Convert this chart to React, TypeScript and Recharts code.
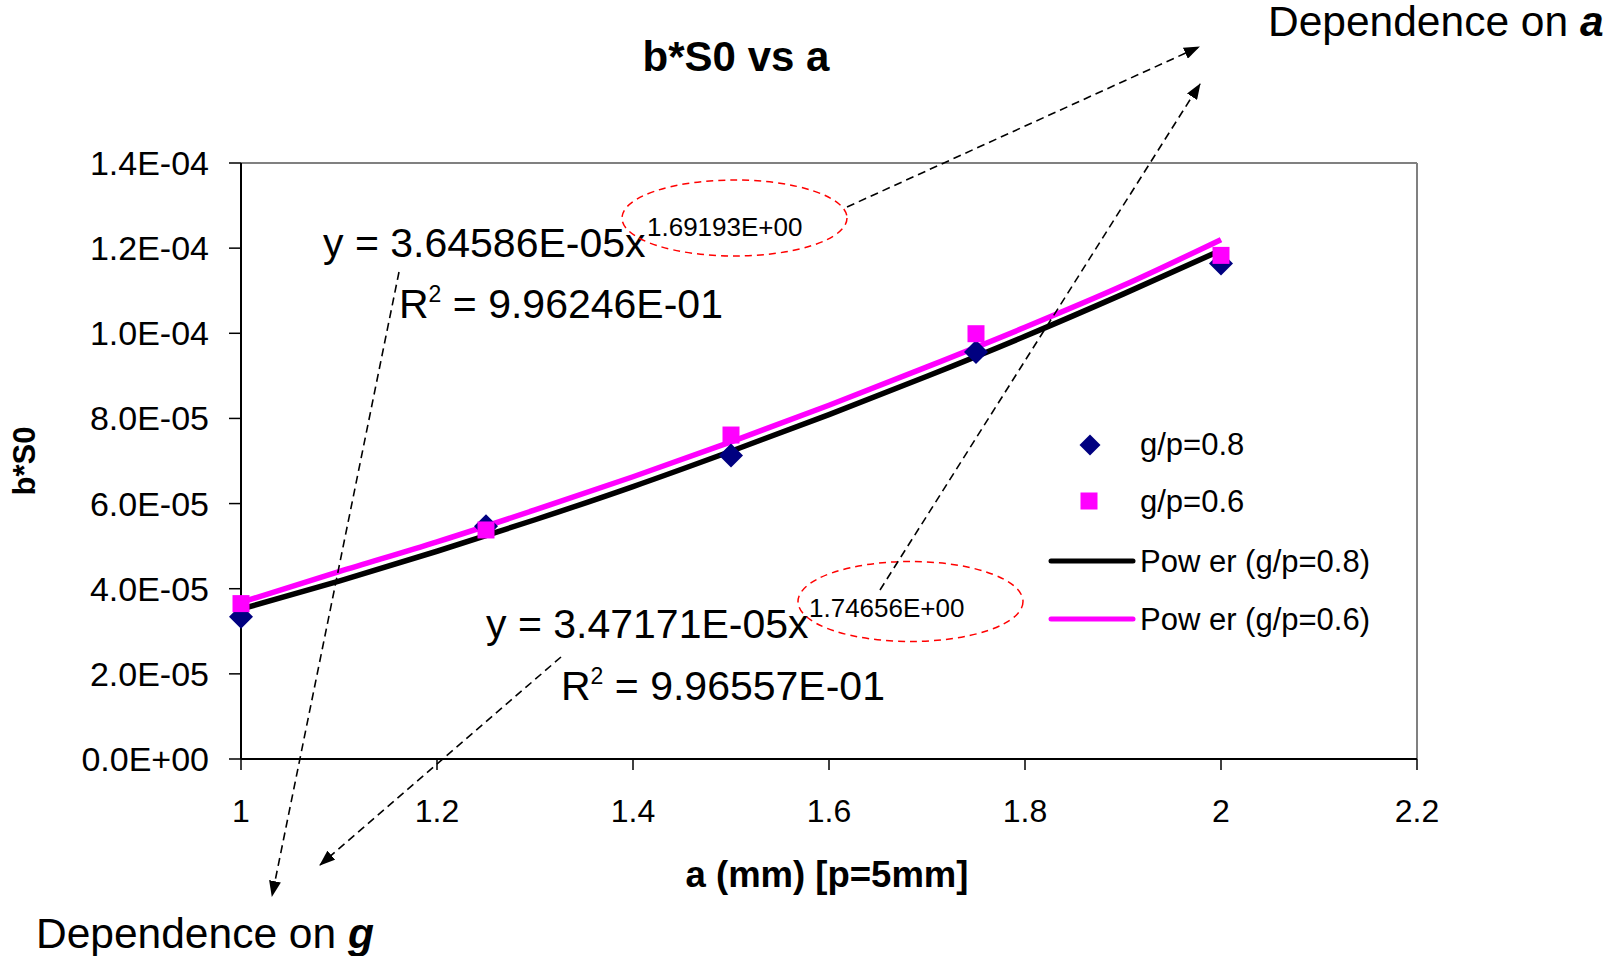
import React from "react";
import { ComposedChart, Line, ReferenceLine, Scatter, XAxis, YAxis } from "recharts";

const FONT = "'Liberation Sans', Arial, sans-serif";

const xTicks = [1, 1.2, 1.4, 1.6, 1.8, 2, 2.2];
const yTicks = [0, 2e-5, 4e-5, 6e-5, 8e-5, 1e-4, 1.2e-4, 1.4e-4];

// measured points (a in mm)
const sampleA = [1, 1.25, 1.5, 1.75, 2];
const gp08 = [3.34e-5, 5.47e-5, 7.13e-5, 9.56e-5, 1.164e-4];
const gp06 = [3.65e-5, 5.38e-5, 7.61e-5, 9.99e-5, 1.183e-4];

// power trendlines as drawn
const trendA = [1, 1.1, 1.2, 1.3, 1.4, 1.5, 1.6, 1.7, 1.8, 1.9, 2];
const power08 = [3.52e-5, 4.18e-5, 4.88e-5, 5.62e-5, 6.4e-5, 7.23e-5, 8.09e-5, 8.99e-5, 9.93e-5, 10.92e-5, 11.95e-5];
const power06 = [3.68e-5, 4.4e-5, 5.1e-5, 5.85e-5, 6.63e-5, 7.45e-5, 8.31e-5, 9.21e-5, 10.14e-5, 11.12e-5, 12.2e-5];

const pts08 = sampleA.map((x, i) => ({ x, y: gp08[i] }));
const pts06 = sampleA.map((x, i) => ({ x, y: gp06[i] }));
const line08 = trendA.map((x, i) => ({ x, y: power08[i] }));
const line06 = trendA.map((x, i) => ({ x, y: power06[i] }));

function sci(v: number) {
  if (v === 0) return "0.0E+00";
  const e = Math.floor(Math.log10(v) + 1e-9);
  const m = v / Math.pow(10, e);
  return `${m.toFixed(1)}E${e < 0 ? "-" : "+"}${String(Math.abs(e)).padStart(2, "0")}`;
}

const YTick = ({ x, y, payload }: any) => (
  <text x={x} y={y} dy={12} textAnchor="end" fontSize={34} fontFamily={FONT} fill="#000">
    {sci(payload.value)}
  </text>
);

const XTick = ({ x, y, payload }: any) => (
  <text x={x} y={y} dy={52} textAnchor="middle" fontSize={32} fontFamily={FONT} fill="#000">
    {String(payload.value)}
  </text>
);

const Diamond = ({ cx, cy }: any) => (
  <polygon points={`${cx},${cy - 12} ${cx + 12},${cy} ${cx},${cy + 12} ${cx - 12},${cy}`} fill="#000080" />
);

const Square = ({ cx, cy }: any) => <rect x={cx - 8.5} y={cy - 8.5} width={17} height={17} fill="#FF00FF" />;

function Overlay() {
  const dash = "8 5";
  return (
    <svg
      width={1604}
      height={956}
      style={{ position: "absolute", left: 0, top: 0, pointerEvents: "none" }}
      fontFamily={FONT}
    >
      <defs>
        <marker id="head" markerWidth={16} markerHeight={12} refX={15} refY={6} orient="auto" markerUnits="userSpaceOnUse">
          <path d="M0,0 L16,6 L0,12 z" fill="#000" />
        </marker>
      </defs>

      <text x={736} y={71} textAnchor="middle" fontSize={42} fontWeight="bold">b*S0 vs a</text>
      <text x={827} y={887} textAnchor="middle" fontSize={36.5} fontWeight="bold">a (mm) [p=5mm]</text>
      <text transform="translate(35,461) rotate(-90)" textAnchor="middle" fontSize={31} fontWeight="bold">b*S0</text>

      {/* equations */}
      <text x={323} y={257} fontSize={41}>y = 3.64586E-05x</text>
      <text x={647} y={236} fontSize={26}>1.69193E+00</text>
      <text x={399} y={318} fontSize={41}>
        <tspan>R</tspan>
        <tspan dy={-16} fontSize={23}>2</tspan>
        <tspan dy={16}> = 9.96246E-01</tspan>
      </text>
      <text x={486} y={638} fontSize={41}>y = 3.47171E-05x</text>
      <text x={809} y={617} fontSize={26}>1.74656E+00</text>
      <text x={561} y={700} fontSize={41}>
        <tspan>R</tspan>
        <tspan dy={-16} fontSize={23}>2</tspan>
        <tspan dy={16}> = 9.96557E-01</tspan>
      </text>

      <ellipse cx={734.5} cy={218} rx={112.5} ry={38} fill="none" stroke="#FF0000" strokeWidth={1.5} strokeDasharray="7 5" />
      <ellipse cx={910.5} cy={601.5} rx={112.5} ry={40} fill="none" stroke="#FF0000" strokeWidth={1.5} strokeDasharray="7 5" />

      <line x1={847} y1={207} x2={1199} y2={47} stroke="#000" strokeWidth={1.6} strokeDasharray={dash} markerEnd="url(#head)" />
      <line x1={880} y1={590} x2={1200} y2={84} stroke="#000" strokeWidth={1.6} strokeDasharray={dash} markerEnd="url(#head)" />
      <line x1={399} y1={272} x2={272} y2={896} stroke="#000" strokeWidth={1.6} strokeDasharray={dash} markerEnd="url(#head)" />
      <line x1={561} y1={657} x2={320} y2={865} stroke="#000" strokeWidth={1.6} strokeDasharray={dash} markerEnd="url(#head)" />

      <text x={1268} y={36} fontSize={42.5}>
        Dependence on <tspan fontWeight="bold" fontStyle="italic">a</tspan>
      </text>
      <text x={36} y={948} fontSize={42.5}>
        Dependence on <tspan fontWeight="bold" fontStyle="italic">g</tspan>
      </text>

      {/* legend */}
      <polygon points="1090,434.5 1100.5,445 1090,455.5 1079.5,445" fill="#000080" />
      <text x={1140} y={455} fontSize={31}>g/p=0.8</text>
      <rect x={1080.5} y={492.5} width={17} height={17} fill="#FF00FF" />
      <text x={1140} y={512} fontSize={31}>g/p=0.6</text>
      <line x1={1051} y1={561} x2={1133} y2={561} stroke="#000" strokeWidth={5} strokeLinecap="round" />
      <text x={1140} y={572} fontSize={31}>Pow er (g/p=0.8)</text>
      <line x1={1051} y1={619} x2={1133} y2={619} stroke="#FF00FF" strokeWidth={5} strokeLinecap="round" />
      <text x={1140} y={630} fontSize={31}>Pow er (g/p=0.6)</text>
    </svg>
  );
}

export default function App() {
  return (
    <div style={{ position: "absolute", left: 0, top: 0, width: 1604, height: 956, background: "#fff" }}>
      <ComposedChart width={1604} height={956} margin={{ top: 163, right: 187, bottom: 137, left: 0 }}>
        <XAxis
          type="number"
          dataKey="x"
          domain={[1, 2.2]}
          ticks={xTicks}
          interval={0}
          height={60}
          tickSize={11}
          tickMargin={0}
          tick={<XTick />}
          axisLine={{ stroke: "#000", strokeWidth: 2 }}
          tickLine={{ stroke: "#000", strokeWidth: 1.5 }}
        />
        <YAxis
          type="number"
          dataKey="y"
          domain={[0, 1.4e-4]}
          ticks={yTicks}
          interval={0}
          width={241}
          tickSize={12}
          tickMargin={20}
          tick={<YTick />}
          axisLine={{ stroke: "#000", strokeWidth: 2 }}
          tickLine={{ stroke: "#000", strokeWidth: 1.5 }}
        />
        <ReferenceLine y={1.4e-4} stroke="#808080" strokeWidth={2} />
        <ReferenceLine x={2.2} stroke="#808080" strokeWidth={2} />
        <Scatter name="g/p=0.8" data={pts08} shape={<Diamond />} isAnimationActive={false} />
        <Scatter name="g/p=0.6" data={pts06} shape={<Square />} isAnimationActive={false} />
        <Line
          name="Power (g/p=0.8)"
          data={line08}
          dataKey="y"
          type="monotone"
          stroke="#000"
          strokeWidth={5.5}
          dot={false}
          activeDot={false}
          isAnimationActive={false}
        />
        <Line
          name="Power (g/p=0.6)"
          data={line06}
          dataKey="y"
          type="monotone"
          stroke="#FF00FF"
          strokeWidth={5.5}
          dot={false}
          activeDot={false}
          isAnimationActive={false}
        />
      </ComposedChart>
      <Overlay />
    </div>
  );
}
